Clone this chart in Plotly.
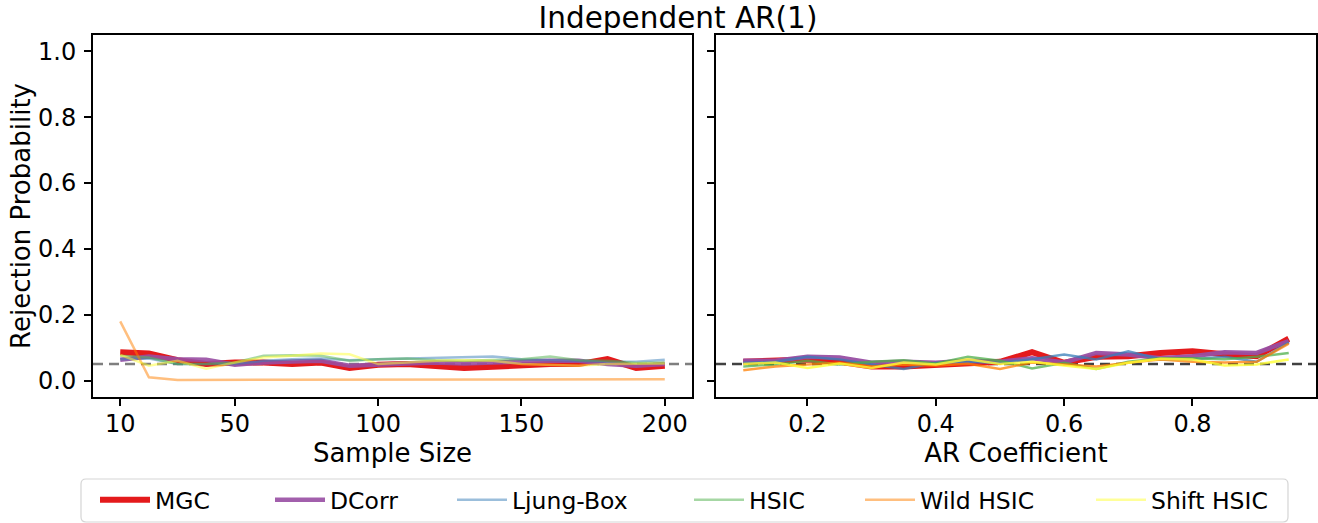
import plotly.graph_objects as go

# ---------------- data ----------------
sample_sizes = [10, 20, 30, 40, 50, 60, 70, 80, 90, 100,
                110, 120, 130, 140, 150, 160, 170, 180, 190, 200]
ar_coefs = [0.10, 0.15, 0.20, 0.25, 0.30, 0.35, 0.40, 0.45, 0.50,
            0.55, 0.60, 0.65, 0.70, 0.75, 0.80, 0.85, 0.90, 0.95]

series_names = ["MGC", "DCorr", "Ljung-Box", "HSIC", "Wild HSIC", "Shift HSIC"]

# left panel: rejection probability vs sample size
n_mgc = [0.086, 0.082, 0.062, 0.050, 0.055, 0.055, 0.050, 0.055, 0.038, 0.048,
         0.050, 0.045, 0.038, 0.042, 0.048, 0.050, 0.050, 0.065, 0.038, 0.045]
n_dcorr = [0.063, 0.073, 0.065, 0.063, 0.048, 0.055, 0.058, 0.060, 0.045, 0.050,
           0.052, 0.055, 0.052, 0.055, 0.058, 0.060, 0.060, 0.050, 0.045, 0.050]
n_ljung = [0.065, 0.067, 0.050, 0.050, 0.050, 0.060, 0.065, 0.067, 0.062, 0.065,
           0.067, 0.070, 0.073, 0.073, 0.065, 0.062, 0.060, 0.057, 0.057, 0.063]
n_hsic = [0.075, 0.070, 0.050, 0.050, 0.055, 0.075, 0.077, 0.075, 0.060, 0.065,
          0.067, 0.062, 0.060, 0.062, 0.065, 0.073, 0.062, 0.060, 0.053, 0.055]
n_wild = [0.180, 0.010, 0.002, 0.002, 0.002, 0.002, 0.002, 0.002, 0.003, 0.003,
          0.003, 0.003, 0.002, 0.002, 0.002, 0.002, 0.003, 0.003, 0.004, 0.004]
n_shift = [0.078, 0.045, 0.060, 0.036, 0.055, 0.070, 0.075, 0.082, 0.080, 0.050,
           0.055, 0.060, 0.062, 0.060, 0.050, 0.048, 0.045, 0.050, 0.052, 0.052]

# right panel: rejection probability vs AR coefficient
a_mgc = [0.057, 0.059, 0.064, 0.057, 0.043, 0.043, 0.048, 0.055, 0.057,
         0.086, 0.054, 0.072, 0.074, 0.084, 0.089, 0.080, 0.074, 0.127]
a_dcorr = [0.060, 0.060, 0.072, 0.070, 0.054, 0.057, 0.054, 0.060, 0.057,
           0.068, 0.055, 0.084, 0.079, 0.068, 0.074, 0.086, 0.084, 0.120]
a_ljung = [0.054, 0.057, 0.072, 0.064, 0.049, 0.035, 0.054, 0.057, 0.054,
           0.065, 0.079, 0.064, 0.089, 0.065, 0.065, 0.072, 0.057, 0.116]
a_hsic = [0.043, 0.049, 0.060, 0.049, 0.057, 0.062, 0.052, 0.072, 0.060,
          0.037, 0.054, 0.035, 0.057, 0.068, 0.068, 0.065, 0.072, 0.084]
a_wild = [0.031, 0.043, 0.049, 0.054, 0.043, 0.049, 0.046, 0.051, 0.035,
          0.055, 0.049, 0.043, 0.054, 0.064, 0.057, 0.055, 0.057, 0.112]
a_shift = [0.050, 0.055, 0.038, 0.052, 0.038, 0.055, 0.049, 0.065, 0.050,
           0.057, 0.046, 0.035, 0.054, 0.066, 0.064, 0.046, 0.049, 0.064]

alpha_level = 0.05

left_values = [n_mgc, n_dcorr, n_ljung, n_hsic, n_wild, n_shift]
right_values = [a_mgc, a_dcorr, a_ljung, a_hsic, a_wild, a_shift]

base_rgb = ["228,26,28", "152,78,163", "55,126,184", "77,175,74", "255,127,0", "255,255,51"]
left_alpha = [1.0, 0.9, 0.5, 0.5, 0.5, 0.5]
right_alpha = [1.0, 0.95, 0.75, 0.75, 0.75, 0.8]
widths = [6, 4.5, 2.5, 2.5, 2.5, 2.5]

W, H = 1318, 523
def px(x):
    return x / W
def py(y):
    return 1 - y / H

FONT = "DejaVu Sans"
TICK_SIZE = 24
LABEL_SIZE = 26
TITLE_SIZE = 29.5
LEGEND_SIZE = 23.5

fig = go.Figure()

for i, name in enumerate(series_names):
    lg = "legend" if i == 0 else f"legend{i+1}"
    fig.add_trace(go.Scatter(x=sample_sizes, y=left_values[i], mode="lines", name=name,
                             line=dict(color=f"rgba({base_rgb[i]},{left_alpha[i]})", width=widths[i]),
                             xaxis="x", yaxis="y", legend=lg, showlegend=True))
for i, name in enumerate(series_names):
    fig.add_trace(go.Scatter(x=ar_coefs, y=right_values[i], mode="lines", name=name,
                             line=dict(color=f"rgba({base_rgb[i]},{right_alpha[i]})", width=widths[i]),
                             xaxis="x2", yaxis="y2", showlegend=False))

axis_common = dict(showline=True, linecolor="black", linewidth=2, mirror=True,
                   ticks="outside", ticklen=7, tickwidth=2, tickcolor="black",
                   showgrid=False, zeroline=False,
                   tickfont=dict(family=FONT, size=TICK_SIZE, color="black"))

ydom = [py(397), py(35)]
layout = dict(
    width=W, height=H,
    margin=dict(l=0, r=0, t=0, b=0),
    plot_bgcolor="white", paper_bgcolor="white",
    font=dict(family=FONT, size=TICK_SIZE, color="black"),
    title=dict(text="Independent AR(1)", x=px(678), y=py(18), xanchor="center",
               yanchor="middle", font=dict(family=FONT, size=TITLE_SIZE, color="black")),
    xaxis=dict(domain=[px(93), px(692)], range=[0.5, 209.5], anchor="y",
               tickvals=[10, 50, 100, 150, 200], ticklabelstandoff=-3,
               title=dict(text="Sample Size", font=dict(family=FONT, size=LABEL_SIZE, color="black"),
                          standoff=0),
               automargin=False, **axis_common),
    yaxis=dict(domain=ydom, range=[-0.05, 1.05], anchor="x",
               tickvals=[0, 0.2, 0.4, 0.6, 0.8, 1.0], tickformat=".1f",
               ticklabelstandoff=3,
               title=dict(text="Rejection Probability", font=dict(family=FONT, size=LABEL_SIZE, color="black"),
                          standoff=0),
               automargin=False, **axis_common),
    xaxis2=dict(domain=[px(716), px(1316)], range=[0.0575, 0.9925], anchor="y2",
                tickvals=[0.2, 0.4, 0.6, 0.8], tickformat=".1f", ticklabelstandoff=-3,
                title=dict(text="AR Coefficient", font=dict(family=FONT, size=LABEL_SIZE, color="black"),
                           standoff=0),
                automargin=False, **axis_common),
    yaxis2=dict(domain=ydom, range=[-0.05, 1.05], anchor="x2",
                tickvals=[0, 0.2, 0.4, 0.6, 0.8, 1.0], showticklabels=False,
                automargin=False, **axis_common),
)

legend_line_center = [115, 290, 472, 709, 880, 1111]
for i, name in enumerate(series_names):
    key = "legend" if i == 0 else f"legend{i+1}"
    layout[key] = dict(x=px(legend_line_center[i] - 20), y=py(500), xanchor="left", yanchor="middle",
                       orientation="h", bgcolor="rgba(0,0,0,0)", borderwidth=0, itemwidth=50,
                       font=dict(family=FONT, size=LEGEND_SIZE, color="black"))

fig.update_layout(**layout)

# significance level reference lines
fig.add_shape(type="line", xref="x domain", yref="y", x0=0, x1=1, y0=alpha_level, y1=alpha_level,
              line=dict(color="rgba(120,120,120,0.95)", width=2.5, dash="10px,6px"), layer="below")
fig.add_shape(type="line", xref="x2 domain", yref="y2", x0=0, x1=1, y0=alpha_level, y1=alpha_level,
              line=dict(color="rgba(55,55,55,0.95)", width=2.5, dash="10px,6px"), layer="below")

# legend frame with rounded corners
x0, x1, y0, y1 = 81, 1288, 479, 522
r = 5
path = (f"M {px(x0 + r)},{py(y0)} L {px(x1 - r)},{py(y0)} Q {px(x1)},{py(y0)} {px(x1)},{py(y0 + r)} "
        f"L {px(x1)},{py(y1 - r)} Q {px(x1)},{py(y1)} {px(x1 - r)},{py(y1)} "
        f"L {px(x0 + r)},{py(y1)} Q {px(x0)},{py(y1)} {px(x0)},{py(y1 - r)} "
        f"L {px(x0)},{py(y0 + r)} Q {px(x0)},{py(y0)} {px(x0 + r)},{py(y0)} Z")
fig.add_shape(type="path", xref="paper", yref="paper", path=path,
              line=dict(color="#d5d5d5", width=1.2))

fig.write_html("out.html", config={"displayModeBar": False},
               post_script="document.body.style.margin='0px';")
